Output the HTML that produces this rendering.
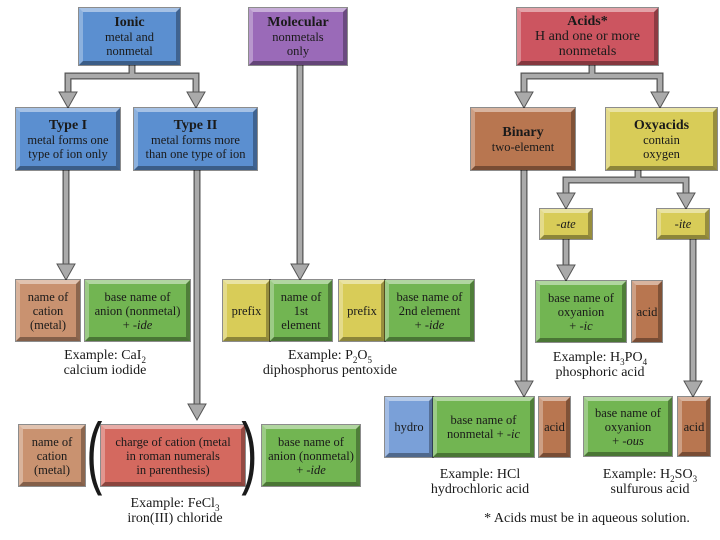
<!DOCTYPE html>
<html><head><meta charset="utf-8"><style>
body{margin:0;width:720px;height:540px;background:#fff;position:relative;overflow:hidden;font-family:"Liberation Serif",serif;color:#1a1a1a}
.b{position:absolute;box-sizing:border-box;display:flex;justify-content:center;align-items:center;text-align:center;font-size:12.5px;line-height:14px;border:4px solid;border-color:rgba(255,255,255,.45) rgba(0,0,0,.3) rgba(0,0,0,.35) rgba(255,255,255,.3);box-shadow:0 0 0 1px rgba(0,0,0,.45);white-space:nowrap}
.t{font-weight:bold;font-size:14px;line-height:15px}
.bl{background:#5b8fd0}.pu{background:#9a6ab8}.rd{background:#cc5560}.br{background:#b87650}.ye{background:#d8cc58}.gr{background:#72b552}.sa{background:#c99270}.rl{background:#d4695f}.lb{background:#7aa0d8}
.e{position:absolute;text-align:center;font-size:14px;line-height:15px}
.e sub{font-size:9px;line-height:0}
.p{position:absolute;font-size:80px;line-height:80px;transform:scaleX(.6);font-family:"Liberation Sans",sans-serif}
</style></head><body>
<svg width="720" height="540" style="position:absolute;left:0;top:0">
<g fill="none" stroke-linejoin="miter">
<g stroke="#555" stroke-width="7">
<path d="M132 65V76M68 100V76H196V100"/><path d="M66 170V272"/><path d="M197 170V412"/><path d="M300 65V272"/>
<path d="M592 65V76M524 100V76H660V100"/><path d="M524 170V389"/><path d="M638 170V180M566 201V180H686V201"/><path d="M566 239V273"/><path d="M693 239V389"/>
</g>
<g stroke="#aaa" stroke-width="4.5">
<path d="M132 65V76M68 100V76H196V100"/><path d="M66 170V272"/><path d="M197 170V412"/><path d="M300 65V272"/>
<path d="M592 65V76M524 100V76H660V100"/><path d="M524 170V389"/><path d="M638 170V180M566 201V180H686V201"/><path d="M566 239V273"/><path d="M693 239V389"/>
</g></g>
<g fill="#aaa" stroke="#555" stroke-width="1">
<path d="M59 92L77 92L68 108Z"/><path d="M187 92L205 92L196 108Z"/><path d="M57 264L75 264L66 280Z"/><path d="M188 404L206 404L197 420Z"/><path d="M291 264L309 264L300 280Z"/>
<path d="M515 92L533 92L524 108Z"/><path d="M651 92L669 92L660 108Z"/><path d="M515 381L533 381L524 397Z"/><path d="M557 193L575 193L566 209Z"/><path d="M677 193L695 193L686 209Z"/><path d="M557 265L575 265L566 281Z"/><path d="M684 381L702 381L693 397Z"/>
</g></svg>
<div class="b bl" style="left:79px;top:8px;width:101px;height:57px"><div><span class="t">Ionic</span><br>metal and<br>nonmetal</div></div>
<div class="b pu" style="left:249px;top:8px;width:98px;height:57px"><div><span class="t">Molecular</span><br>nonmetals<br>only</div></div>
<div class="b rd" style="left:517px;top:8px;width:141px;height:57px;font-size:14px;line-height:15px"><div><span class="t">Acids*</span><br>H and one or more<br>nonmetals</div></div>
<div class="b bl" style="left:16px;top:108px;width:104px;height:62px"><div><span class="t">Type I</span><br>metal forms one<br>type of ion only</div></div>
<div class="b bl" style="left:134px;top:108px;width:123px;height:62px"><div><span class="t">Type II</span><br>metal forms more<br>than one type of ion</div></div>
<div class="b br" style="left:471px;top:108px;width:104px;height:62px"><div><span class="t">Binary</span><br>two-element</div></div>
<div class="b ye" style="left:606px;top:108px;width:111px;height:62px"><div><span class="t">Oxyacids</span><br>contain<br>oxygen</div></div>
<div class="b ye" style="left:540px;top:209px;width:52px;height:30px"><div><i>-ate</i></div></div>
<div class="b ye" style="left:657px;top:209px;width:52px;height:30px"><div><i>-ite</i></div></div>
<div class="b sa" style="left:16px;top:280px;width:64px;height:61px"><div>name of<br>cation<br>(metal)</div></div>
<div class="b gr" style="left:85px;top:280px;width:105px;height:61px"><div>base name of<br>anion (nonmetal)<br>+ <i>-ide</i></div></div>
<div class="b ye" style="left:223px;top:280px;width:47px;height:61px"><div>prefix</div></div>
<div class="b gr" style="left:270px;top:280px;width:62px;height:61px"><div>name of<br>1st<br>element</div></div>
<div class="b ye" style="left:339px;top:280px;width:46px;height:61px"><div>prefix</div></div>
<div class="b gr" style="left:385px;top:280px;width:89px;height:61px"><div>base name of<br>2nd element<br>+ <i>-ide</i></div></div>
<div class="b gr" style="left:536px;top:281px;width:90px;height:61px"><div>base name of<br>oxyanion<br>+ <i>-ic</i></div></div>
<div class="b br" style="left:632px;top:281px;width:30px;height:61px"><div>acid</div></div>
<div class="b lb" style="left:385px;top:397px;width:48px;height:60px"><div>hydro</div></div>
<div class="b gr" style="left:433px;top:397px;width:101px;height:60px"><div>base name of<br>nonmetal + <i>-ic</i></div></div>
<div class="b br" style="left:539px;top:397px;width:31px;height:60px"><div>acid</div></div>
<div class="b gr" style="left:584px;top:397px;width:88px;height:59px"><div>base name of<br>oxyanion<br>+ <i>-ous</i></div></div>
<div class="b br" style="left:678px;top:397px;width:32px;height:59px"><div>acid</div></div>
<div class="b sa" style="left:19px;top:425px;width:66px;height:61px"><div>name of<br>cation<br>(metal)</div></div>
<div class="b rl" style="left:101px;top:425px;width:144px;height:61px"><div>charge of cation (metal<br>in roman numerals<br>in parenthesis)</div></div>
<div class="b gr" style="left:262px;top:425px;width:98px;height:61px"><div>base name of<br>anion (nonmetal)<br>+ <i>-ide</i></div></div>
<div class="p" style="left:81px;top:412px">(</div>
<div class="p" style="left:236px;top:412px">)</div>
<div class="e" style="left:40px;top:348px;width:130px">Example: CaI<sub>2</sub><br>calcium iodide</div>
<div class="e" style="left:250px;top:348px;width:160px">Example: P<sub>2</sub>O<sub>5</sub><br>diphosphorus pentoxide</div>
<div class="e" style="left:530px;top:350px;width:140px">Example: H<sub>3</sub>PO<sub>4</sub><br>phosphoric acid</div>
<div class="e" style="left:105px;top:496px;width:140px">Example: FeCl<sub>3</sub><br>iron(III) chloride</div>
<div class="e" style="left:405px;top:467px;width:150px">Example: HCl<br>hydrochloric acid</div>
<div class="e" style="left:585px;top:467px;width:130px">Example: H<sub>2</sub>SO<sub>3</sub><br>sulfurous acid</div>
<div class="e" style="left:462px;top:511px;width:250px">* Acids must be in aqueous solution.</div>
</body></html>
